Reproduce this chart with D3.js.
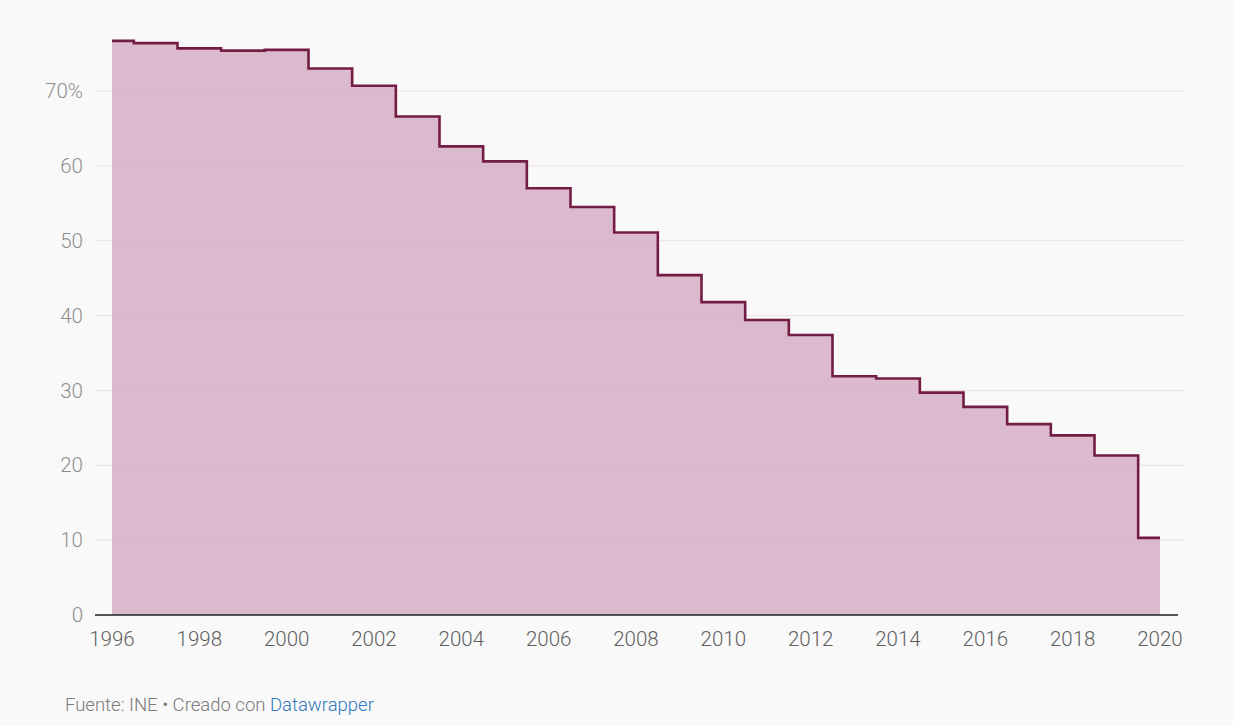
<!DOCTYPE html>
<html><head><meta charset="utf-8">
<script src="https://cdn.jsdelivr.net/npm/d3@7"></script>
<style>
html,body{margin:0;padding:0;background:#f9f9f9;}
svg{display:block;font-family:Roboto,"Noto Sans",sans-serif;}
</style></head>
<body>
<svg id="c" width="1233" height="726"></svg>
<script>
const years = [1996,1997,1998,1999,2000,2001,2002,2003,2004,2005,2006,2007,2008,2009,2010,2011,2012,2013,2014,2015,2016,2017,2018,2019,2020];
const values = [76.7,76.4,75.7,75.4,75.5,73.0,70.7,66.6,62.6,60.6,57.0,54.5,51.1,45.4,41.8,39.4,37.4,31.9,31.6,29.7,27.8,25.5,24.0,21.3,10.3];
const yTicks = [0,10,20,30,40,50,60,70];
const xTicks = [1996,1998,2000,2002,2004,2006,2008,2010,2012,2014,2016,2018,2020];

const data = years.map((y,i)=>({year:y,value:values[i]}));
const svg = d3.select("#c");
const x = d3.scaleLinear().domain([1996,2020]).range([112,1160]);
const y = d3.scaleLinear().domain([0,70]).range([615,91]);

// area
svg.append("path").datum(data)
  .attr("d", d3.area().curve(d3.curveStep).x(d=>x(d.year)).y0(y(0)).y1(d=>y(d.value)))
  .attr("fill","#dcbace");

// gridlines
svg.append("g").selectAll("line").data(yTicks.filter(t=>t>0)).join("line")
  .attr("x1",95).attr("x2",1185)
  .attr("y1",d=>y(d)).attr("y2",d=>y(d))
  .attr("stroke","#d9a8c2").attr("stroke-opacity",0.35).attr("stroke-width",1);

// y labels
svg.append("g").selectAll("text").data(yTicks).join("text")
  .attr("x",83).attr("y",d=>y(d)).attr("dy","0.35em")
  .attr("text-anchor","end").attr("font-size",20.5).attr("font-weight",300).attr("fill","#8f8f8f")
  .text(d=>d===70? d+"%" : d);

// step line
svg.append("path").datum(data)
  .attr("d", d3.line().curve(d3.curveStep).x(d=>x(d.year)).y(d=>y(d.value)))
  .attr("fill","none").attr("stroke","#731c44").attr("stroke-width",2.6);

// baseline
svg.append("line").attr("x1",95).attr("x2",1178).attr("y1",y(0)).attr("y2",y(0))
  .attr("stroke","#222").attr("stroke-width",1.3);

// x labels
svg.append("g").selectAll("text").data(xTicks).join("text")
  .attr("x",d=>x(d)).attr("y",646)
  .attr("text-anchor","middle").attr("font-size",20.5).attr("font-weight",300).attr("fill","#5f5f5f")
  .text(d=>d);

// footer
const f = svg.append("text").attr("x",65).attr("y",711).attr("font-size",18.5).attr("font-weight",300).attr("fill","#7a7a7a");
f.append("tspan").text("Fuente: INE • Creado con ");
f.append("tspan").attr("fill","#2f78bd").text("Datawrapper");
</script>
</body></html>
